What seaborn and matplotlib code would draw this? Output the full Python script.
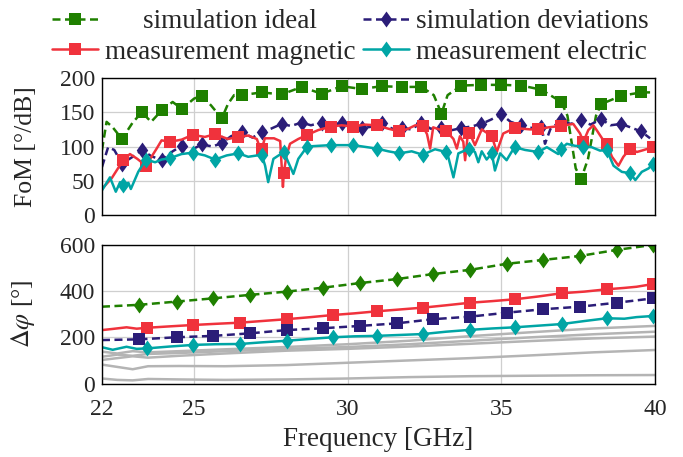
import numpy as np
import matplotlib
matplotlib.use("Agg")
import matplotlib.pyplot as plt
import seaborn as sns

# ---- top panel: figure of merit [deg/dB] ----
ideal_f = [22.0, 22.15, 22.35, 22.65, 23.0, 23.30, 23.6, 23.95, 24.3, 24.60, 25.0, 25.25, 25.55, 25.90,
           26.1, 26.3, 26.55, 27.20, 27.85, 28.50, 29.15, 29.80, 30.45, 31.10, 31.75, 32.40, 32.8, 33.05,
           33.25, 33.70, 34.35, 35.00, 35.65, 36.30, 36.95, 37.15, 37.42, 37.60, 37.82, 38.08, 38.25,
           38.90, 39.55, 39.84]
ideal_v = [95, 136, 128, 111, 135, 150, 136, 153, 165, 155, 170, 174, 160, 141,
           162, 175, 175, 179, 176, 187, 177, 188, 184, 188, 187, 187, 175, 148,
           175, 189, 190, 190, 189, 183, 165, 145, 68, 53, 82, 145, 162,
           174, 179, 179]

dev_f = [22.00, 22.20, 22.40, 22.65, 23.00, 23.30, 23.60, 23.95, 24.30, 24.60, 24.95, 25.25, 25.60,
         25.90, 26.20, 26.55, 26.90, 27.20, 27.50, 27.85, 28.15, 28.50, 28.80, 29.15, 29.45, 29.80,
         30.10, 30.45, 30.80, 31.10, 31.45, 31.75, 32.05, 32.40, 32.70, 33.05, 33.40, 33.70, 34.00,
         34.35, 34.65, 35.00, 35.30, 35.65, 36.00, 36.30, 36.42, 36.60, 36.95, 37.25, 37.60, 37.90,
         38.25, 38.55, 38.90, 39.20, 39.55, 39.84]
dev_v = [70, 99, 95, 75, 85, 95, 86, 80, 93, 101, 96, 103, 100,
         105, 115, 121, 113, 121, 126, 133, 130, 135, 131, 135, 132, 134,
         130, 127, 129, 134, 126, 127, 125, 134, 126, 127, 124, 127, 129,
         133, 139, 147, 136, 131, 127, 129, 104, 126, 138, 133, 138, 132,
         140, 131, 133, 128, 122, 112]

sim_mark_f = [22.65, 23.30, 23.95, 24.60, 25.25, 25.90, 26.55, 27.20, 27.85, 28.50, 29.15, 29.80, 30.45,
              31.10, 31.75, 32.40, 33.05, 33.70, 34.35, 35.00, 35.65, 36.30, 36.95, 37.60, 38.25, 38.90,
              39.55]

mag_f = [22.00, 22.32, 22.69, 22.91, 23.15, 23.43, 23.78, 23.94, 24.21, 24.59, 24.95, 25.35, 25.68,
         26.10, 26.44, 26.76, 27.04, 27.13, 27.20, 27.30, 27.60, 27.80, 27.89, 27.92, 28.00, 28.12,
         28.39, 28.68, 29.04, 29.44, 29.80, 30.18, 30.55, 30.94, 31.32, 31.68, 31.97, 32.20, 32.44,
         32.58, 32.68, 32.78, 33.17, 33.20, 33.44, 33.55, 33.65, 33.76, 33.82, 33.90, 33.96, 34.14,
         34.36, 34.69, 34.85, 35.06, 35.44, 35.93, 36.20, 36.53, 36.93, 37.34, 37.56, 37.67, 37.83,
         37.99, 38.10, 38.32, 38.43, 38.60, 38.81, 38.97, 39.19, 39.41, 39.57, 39.93]
mag_v = [38, 54, 80, 89, 82, 72, 97, 109, 107, 110, 117, 114, 118,
         111, 114, 116, 111, 100, 96, 112, 112, 108, 41, 62, 85, 104,
         111, 117, 124, 129, 131, 129, 132, 131, 126, 122, 126, 131, 130,
         118, 97, 128, 122, 123, 111, 97, 115, 107, 80, 115, 120, 102,
         125, 115, 92, 119, 127, 125, 125, 128, 130, 133, 119, 107, 124,
         131, 124, 109, 104, 85, 72, 85, 97, 92, 94, 99]

ele_f = [22.00, 22.26, 22.45, 22.59, 22.69, 22.86, 22.94, 23.18, 23.43, 23.73, 23.94, 24.21, 24.59,
         24.95, 25.35, 25.68, 26.06, 26.44, 26.76, 27.20, 27.31, 27.41, 27.58, 27.92, 28.23, 28.39,
         28.68, 29.04, 29.44, 30.18, 30.94, 31.32, 31.68, 32.08, 32.44, 32.84, 33.20, 33.27, 33.44,
         33.60, 33.96, 34.14, 34.25, 34.36, 34.52, 34.69, 34.79, 34.96, 35.17, 35.33, 35.44, 35.77,
         36.20, 36.48, 36.85, 36.93, 37.13, 37.40, 37.67, 37.94, 38.21, 38.43, 38.65, 38.92, 39.19,
         39.36, 39.57, 39.79, 39.93]
ele_v = [36, 55, 34, 48, 44, 47, 38, 63, 81, 77, 81, 83, 89,
         91, 87, 81, 87, 90, 85, 88, 72, 48, 82, 92, 60, 82,
         100, 101, 102, 102, 97, 93, 90, 93, 88, 96, 92, 85, 55,
         90, 97, 92, 77, 93, 81, 90, 65, 90, 80, 92, 99, 95,
         92, 99, 89, 96, 104, 101, 100, 99, 94, 95, 72, 63, 61,
         51, 63, 68, 75]

meas_mark_f = [22.69, 23.43, 24.21, 24.95, 25.68, 26.44, 27.20, 27.92, 28.68, 29.44, 30.18, 30.94,
               31.68, 32.44, 33.20, 33.96, 34.69, 35.44, 36.20, 36.93, 37.67, 38.43, 39.19, 39.93]

# ---- bottom panel: phase shift [deg] ----
ph_ideal_f = [22.0, 23.21, 24.43, 25.62, 26.82, 28.01, 29.20, 30.40, 31.59, 32.78, 33.98, 35.17,
              36.37, 37.56, 38.75, 39.95]
ph_ideal_v = [332, 340, 354, 368, 383, 397, 414, 434, 451, 473, 491, 517, 534, 551, 577, 599]
ph_dev_v = [188, 191, 200, 206, 217, 231, 239, 249, 260, 278, 289, 306, 321, 332, 349, 368]

ph_meas_f = [22.0, 22.35, 22.8, 23.13, 23.47, 24.2, 24.97, 25.7, 26.49, 27.2, 28.01, 28.8, 29.51,
             30.2, 30.94, 31.7, 32.46, 33.2, 33.98, 34.7, 35.44, 36.2, 36.96, 37.7, 38.43, 39.0,
             39.4, 39.95]
ph_mag_v = [231, 236, 243, 237, 241, 247, 253, 258, 263, 270, 278, 287, 296,
            303, 312, 320, 328, 338, 349, 356, 364, 376, 390, 397, 407, 413,
            418, 430]
ph_ele_v = [157, 146, 159, 150, 152, 160, 167, 170, 171, 178, 185, 193, 200,
            204, 206, 210, 214, 224, 232, 238, 243, 250, 257, 270, 282, 280,
            287, 292]
ph_mag_mark_f = [23.47, 24.97, 26.49, 28.01, 29.51, 30.94, 32.46, 33.98, 35.44, 36.96, 38.43, 39.95]

grey_f = [22.0, 22.5, 23.0, 23.5, 24.5, 26.0, 28.0, 30.0, 32.0, 34.0, 36.0, 38.0, 40.0]
grey_v = [
    [138, 130, 140, 135, 140, 148, 158, 170, 185, 205, 222, 238, 249],
    [116, 125, 120, 128, 132, 140, 150, 158, 170, 185, 200, 213, 224],
    [102, 110, 118, 112, 120, 130, 142, 150, 160, 172, 184, 195, 203],
    [82, 72, 62, 75, 76, 75, 80, 90, 100, 110, 122, 135, 145],
    [22, 16, 14, 20, 18, 16, 18, 22, 28, 32, 34, 36, 37],
]

c_green = "#1f8000"
c_navy = "#2b1d78"
c_red = "#f0323c"
c_teal = "#00a5a5"
c_grey = "#b4b4b4"

diamond = [(0, 1), (0.72, 0), (0, -1), (-0.72, 0)]

sns.set_theme(style="white")
plt.rcParams["font.family"] = ["Liberation Serif", "DejaVu Serif"]
plt.rcParams["mathtext.fontset"] = "stix"
fs_tick = 17
fs = 19.5


def marks(f, mf):
    return [i for i, x in enumerate(f) if np.isclose(mf, x).any()]


fig = plt.figure(figsize=(6.83, 4.57), dpi=100)
ax1 = fig.add_axes([0.1493, 0.5295, 0.8097, 0.2998])
ax2 = fig.add_axes([0.1493, 0.1606, 0.8097, 0.3042])

lw = 1.8
ms_sq = 9.2
ms_di = 11.5
dash = (3.2, 1.8)

sns.lineplot(x=ideal_f, y=ideal_v, ax=ax1, color=c_green, lw=lw, linestyle=(0, dash),
             marker="s", markersize=ms_sq, markeredgewidth=0, markevery=marks(ideal_f, sim_mark_f),
             label="simulation ideal", sort=False)
sns.lineplot(x=dev_f, y=dev_v, ax=ax1, color=c_navy, lw=lw, linestyle=(0, dash),
             marker=diamond, markersize=ms_di, markeredgewidth=0, markevery=marks(dev_f, sim_mark_f),
             label="simulation deviations", sort=False)
sns.lineplot(x=mag_f, y=mag_v, ax=ax1, color=c_red, lw=lw,
             marker="s", markersize=ms_sq, markeredgewidth=0, markevery=marks(mag_f, meas_mark_f),
             label="measurement magnetic", sort=False)
sns.lineplot(x=ele_f, y=ele_v, ax=ax1, color=c_teal, lw=lw,
             marker=diamond, markersize=ms_di, markeredgewidth=0, markevery=marks(ele_f, meas_mark_f),
             label="measurement electric", sort=False)

for gv in grey_v:
    sns.lineplot(x=grey_f, y=gv, ax=ax2, color=c_grey, lw=lw, sort=False)
sns.lineplot(x=ph_ideal_f, y=ph_ideal_v, ax=ax2, color=c_green, lw=lw, linestyle=(0, dash),
             marker=diamond, markersize=ms_di, markeredgewidth=0, markevery=list(range(1, 16)), sort=False)
sns.lineplot(x=ph_meas_f, y=ph_mag_v, ax=ax2, color=c_red, lw=lw,
             marker="s", markersize=ms_sq, markeredgewidth=0, markevery=marks(ph_meas_f, ph_mag_mark_f),
             sort=False)
sns.lineplot(x=ph_ideal_f, y=ph_dev_v, ax=ax2, color=c_navy, lw=lw, linestyle=(0, dash),
             marker="s", markersize=ms_sq, markeredgewidth=0, markevery=list(range(1, 16)), sort=False)
sns.lineplot(x=ph_meas_f, y=ph_ele_v, ax=ax2, color=c_teal, lw=lw,
             marker=diamond, markersize=ms_di, markeredgewidth=0, markevery=marks(ph_meas_f, ph_mag_mark_f),
             sort=False)

for ax in (ax1, ax2):
    ax.set_xlim(22, 40)
    ax.set_xticks([22, 25, 30, 35, 40])
    ax.grid(True, color="#cfcfcf", lw=0.9)
    ax.set_axisbelow(True)
    ax.tick_params(direction="in", length=4, width=0.8, color="#777777", labelsize=fs_tick, pad=5)
    ax.tick_params(axis="x", pad=11)
    for sp in ax.spines.values():
        sp.set_color("black")
        sp.set_linewidth(1.0)
    ax.set_xlabel("")

ax1.set_ylim(0, 200)
ax1.set_yticks([0, 50, 100, 150, 200])
ax1.tick_params(labelbottom=False)
ax1.set_ylabel("FoM [°/dB]", fontsize=18.5)
ax2.set_ylim(0, 600)
ax2.set_yticks([0, 200, 400, 600])
ax2.set_ylabel(r"$\Delta\varphi$ [°]", fontsize=18.5)
ax2.set_xlabel("Frequency [GHz]", fontsize=fs, labelpad=5)
ax1.yaxis.set_label_coords(-0.118, 0.5)
ax2.yaxis.set_label_coords(-0.118, 0.5)

h, l = ax1.get_legend_handles_labels()
ax1.get_legend().remove()
order = [0, 2, 1, 3]
leg = fig.legend([h[i] for i in order], [l[i] for i in order], ncol=2, loc="upper center",
                 bbox_to_anchor=(0.513, 1.015), frameon=False, fontsize=fs, handlelength=1.7,
                 handletextpad=0.25, columnspacing=0.3, labelspacing=0.2, borderaxespad=0.2)

# centre the shorter first-column label like the reference legend
fig.canvas.draw()
texts = leg.get_texts()
w0 = texts[0].get_window_extent().width
w1 = texts[1].get_window_extent().width
texts[0].set_position(((w1 - w0) / 2, 0))

fig.savefig("out.png", dpi=100)
